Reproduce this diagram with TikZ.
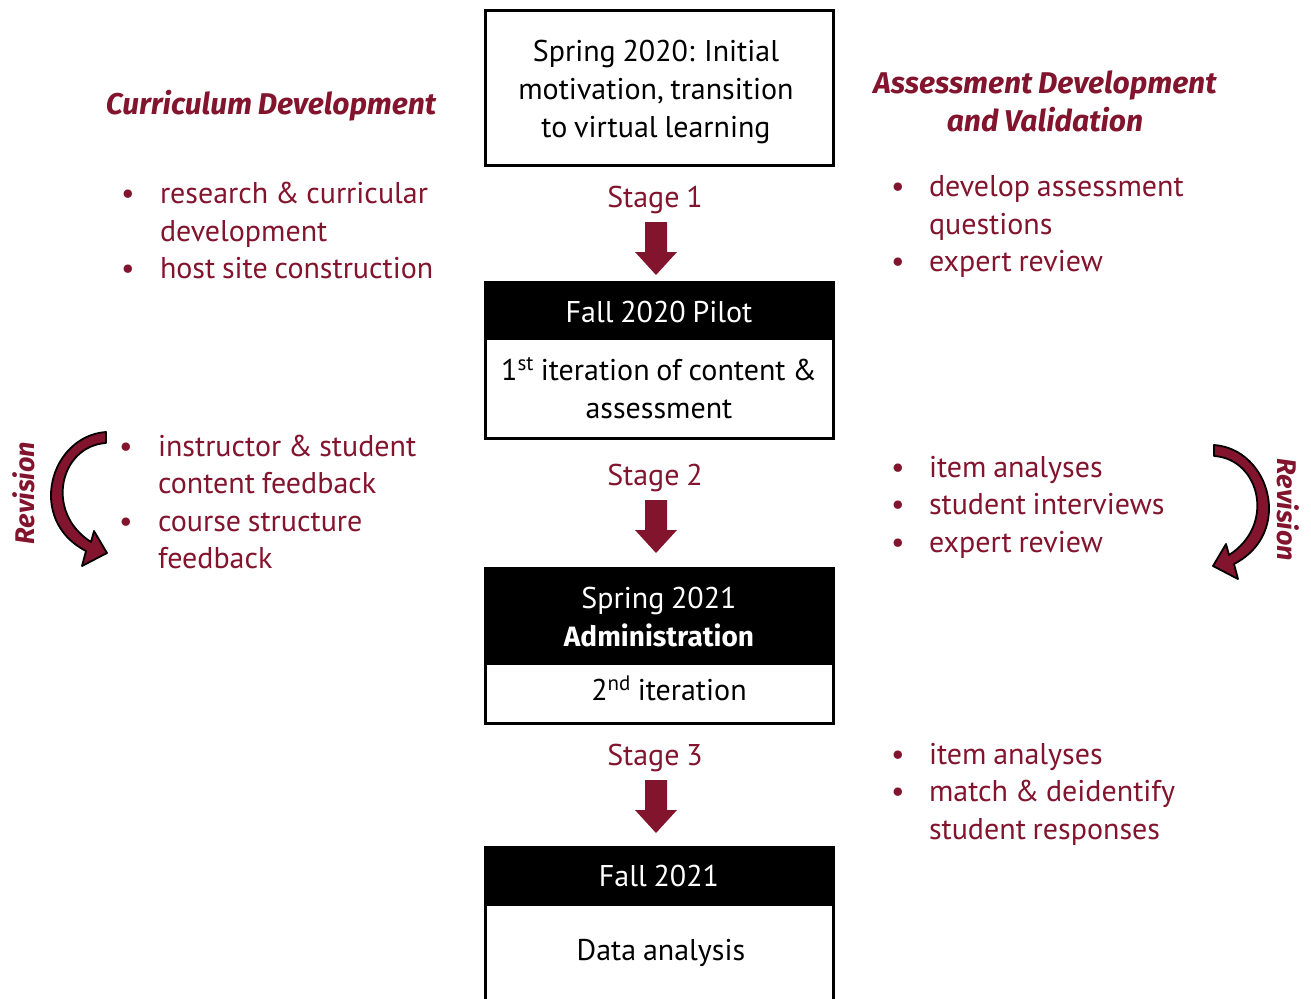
\documentclass[tikz,border=0pt]{standalone}
\usepackage{fontspec}
\setmainfont{PT Sans}[WordSpace=0.85]
\newfontfamily\ttlfont{Fira Sans}[WordSpace=0.85]
\definecolor{mar}{RGB}{130,20,45}
\usetikzlibrary{positioning}
\begin{document}
\begin{tikzpicture}[x=1pt,y=-1pt,
  every node/.style={inner sep=0pt, outer sep=0pt},
  txt/.style={font=\fontsize{30}{37.5}\selectfont},
  ln/.style={txt, anchor=base west, text=mar},
  cl/.style={txt, anchor=base, text=black},
  wl/.style={txt, anchor=base, text=white},
  bl/.style={txt, anchor=base, text=mar},
  ttl/.style={font=\fontsize{30}{37.5}\ttlfont\bfseries\itshape, text=mar, anchor=base},
  boxframe/.style={draw=black, line width=3pt, fill=white, minimum width=348pt},
  hdr/.style={fill=black, minimum width=348pt},
  stagearrow/.style={fill=mar},
  revarrow/.style={fill=mar, draw=black, line width=1.8pt, line join=round}
]
\useasboundingbox (0,0) rectangle (1311,998);
\clip (0,0) rectangle (1311,998);

% ---------- central boxes ----------
\node[boxframe, minimum height=154pt] (b1) at (659,88) {};
\node[cl] (b1a) at (656,62) {Spring 2020: Initial};
\node[cl] (b1b) at (656,99.5) {motivation, transition};
\node[cl] (b1c) at (656,137) {to virtual learning};

\node[boxframe, minimum height=156pt] (b2) at (659,360) {};
\node[hdr, minimum height=56pt, anchor=north] (h2) at (659,283.5) {};
\node[wl] (h2t) at (659,322) {Fall 2020 Pilot};
\node[cl] (b2a) at (659,380) {1\textsuperscript{st} iteration of content \&};
\node[cl] (b2b) at (659,418) {assessment};

\node[boxframe, minimum height=155pt] (b3) at (659,645.5) {};
\node[hdr, minimum height=95pt, anchor=north] (h3) at (659,569.5) {};
\node[wl] (h3a) at (659,608) {Spring 2021};
\node[wl, font=\fontsize{28}{37.5}\ttlfont\bfseries] (h3b) at (659,646) {Administration};
\node[cl] (b3a) at (669,700) {2\textsuperscript{nd} iteration};

\node[boxframe, minimum height=200pt, anchor=north] (b4) at (659,847.5) {};
\node[hdr, minimum height=57pt, anchor=north] (h4) at (659,849) {};
\node[wl] (h4t) at (659,886) {Fall 2021};
\node[cl] (b4a) at (661,960) {Data analysis};

% ---------- stages ----------
\node[bl] (s1) at (655,207) {Stage 1};
\node[bl] (s2) at (655,485) {Stage 2};
\node[bl] (s3) at (655,765) {Stage 3};
\foreach \n/\t in {a1/222, a2/500, a3/780}{
  \coordinate (\n) at (656,\t);
  \fill[stagearrow] (\n) ++(-11,0) -- ++(22,0) -- ++(0,30) -- ++(10,0) -- ++(-21,23) -- ++(-21,-23) -- ++(10,0) -- cycle;
}

% ---------- left column ----------
\node[ttl] (lt) at (271,114) {Curriculum Development};
\node[ln] (l1b) at (121,203) {•};
\node[ln] (l1) at (160,203) {research \& curricular};
\node[ln] (l1c) at (160,241) {development};
\node[ln] (l2b) at (121,278) {•};
\node[ln] (l2) at (160,278) {host site construction};

\node[ln] (l3b) at (119,456) {•};
\node[ln] (l3) at (158,456) {instructor \& student};
\node[ln] (l3c) at (158,493) {content feedback};
\node[ln] (l4b) at (119,531) {•};
\node[ln] (l4) at (158,531) {course structure};
\node[ln] (l4c) at (158,568) {feedback};

\node[ttl, anchor=center, rotate=90, font=\fontsize{27}{37.5}\ttlfont\bfseries\itshape] (lrev) at (24,493) {Revision};
\draw[revarrow] (106,432) .. controls (50,436) and (26,520) .. (86,551)
  -- (82,566) -- (107,553) -- (94,531) -- (91,542)
  .. controls (44,512) and (60,446) .. (106,443) -- cycle;

% ---------- right column ----------
\node[ttl] (rt1) at (1045,93) {Assessment Development};
\node[ttl] (rt2) at (1045,131) {and Validation};
\node[ln] (r1b) at (891,196) {•};
\node[ln] (r1) at (929,196) {develop assessment};
\node[ln] (r1c) at (929,234) {questions};
\node[ln] (r2b) at (891,271) {•};
\node[ln] (r2) at (929,271) {expert review};

\node[ln] (r3b) at (891,477) {•};
\node[ln] (r3) at (929,477) {item analyses};
\node[ln] (r4b) at (891,514) {•};
\node[ln] (r4) at (929,514) {student interviews};
\node[ln] (r5b) at (891,552) {•};
\node[ln] (r5) at (929,552) {expert review};

\node[ln] (r6b) at (891,764) {•};
\node[ln] (r6) at (929,764) {item analyses};
\node[ln] (r7b) at (891,801) {•};
\node[ln] (r7) at (929,801) {match \& deidentify};
\node[ln] (r7c) at (929,839) {student responses};

\node[ttl, anchor=center, rotate=-90, font=\fontsize{27}{37.5}\ttlfont\bfseries\itshape] (rrev) at (1288,510) {Revision};
\draw[revarrow] (1214,445) .. controls (1270,449) and (1294,533) .. (1234,564)
  -- (1238,579) -- (1213,566) -- (1226,544) -- (1229,555)
  .. controls (1276,525) and (1260,459) .. (1214,456) -- cycle;
\end{tikzpicture}
\end{document}
